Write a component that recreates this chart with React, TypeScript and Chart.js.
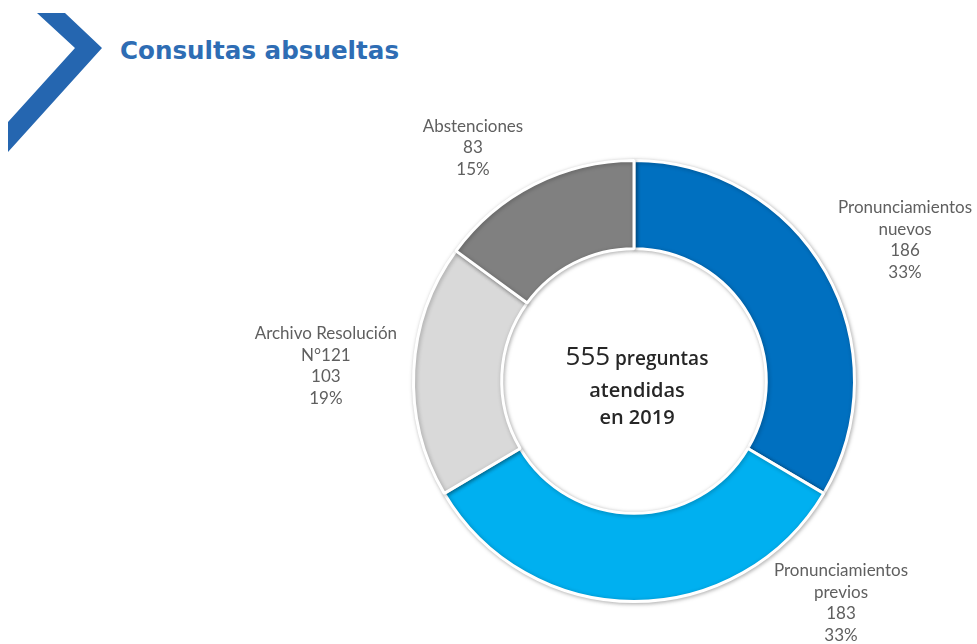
import React, { useEffect, useRef } from "react";
import { Chart, registerables } from "chart.js";

Chart.register(...registerables);

const categories = [
  ["Pronunciamientos", "nuevos"],
  ["Pronunciamientos", "previos"],
  ["Archivo Resolución", "N°121"],
  ["Abstenciones"],
];
const values = [186, 183, 103, 83];
const percentLabels = ["33%", "33%", "19%", "15%"];
const colors = ["#0070C0", "#00B0F0", "#D9D9D9", "#808080"];
const totalText = "555";
const centerLines = ["preguntas", "atendidas", "en 2019"];
const title = "Consultas absueltas";

// label placement: angular nudge (degrees) from slice middle, distance beyond outer edge
const labelLayout = [
  { nudge: 2.2, extra: 85 },
  { nudge: -43, extra: 83 },
  { nudge: 0, extra: 88 },
  { nudge: -7.7, extra: 63 },
];

const LABEL_FONT = '17px Lato, "Noto Sans", sans-serif';

const shadowPlugin = {
  id: "arcShadow",
  beforeDatasetDraw(chart: any) {
    const ctx = chart.ctx;
    ctx.save();
    ctx.shadowColor = "rgba(0,0,0,0.28)";
    ctx.shadowBlur = 4;
    ctx.shadowOffsetX = 1;
    ctx.shadowOffsetY = 1;
  },
  afterDatasetDraw(chart: any) {
    chart.ctx.restore();
  },
};

const labelPlugin = {
  id: "sliceLabels",
  afterDraw(chart: any) {
    const ctx = chart.ctx;
    const meta = chart.getDatasetMeta(0);
    ctx.save();
    ctx.textAlign = "center";
    ctx.textBaseline = "middle";
    meta.data.forEach((arc: any, i: number) => {
      const { x, y, startAngle, endAngle, outerRadius } = arc.getProps(
        ["x", "y", "startAngle", "endAngle", "outerRadius"],
        true
      );
      const lay = labelLayout[i];
      const a = (startAngle + endAngle) / 2 + (lay.nudge * Math.PI) / 180;
      const d = outerRadius + lay.extra;
      const cx = x + d * Math.cos(a);
      const cy = y + d * Math.sin(a);
      const lines = [...categories[i], String(values[i]), percentLabels[i]];
      const lh = 21.5;
      const top = cy - ((lines.length - 1) * lh) / 2;
      ctx.font = LABEL_FONT;
      ctx.fillStyle = "#5f5f5f";
      lines.forEach((t, k) => ctx.fillText(t, cx, top + k * lh));
    });

    // center text
    const arc0 = meta.data[0];
    const ox = arc0.x;
    const oy = arc0.y;
    ctx.textBaseline = "alphabetic";
    ctx.fillStyle = "#262626";
    const bigFont = '26px "Open Sans", sans-serif';
    const smallFont = '600 19px "Open Sans", sans-serif';
    ctx.font = bigFont;
    const w1 = ctx.measureText(totalText + " ").width - 2;
    ctx.font = smallFont;
    const w2 = ctx.measureText(centerLines[0]).width;
    const startX = ox - (w1 + w2) / 2 + 3;
    ctx.textAlign = "left";
    ctx.font = bigFont;
    ctx.fillText(totalText, startX, oy - 16);
    ctx.font = smallFont;
    ctx.fillText(centerLines[0], startX + w1, oy - 16);
    ctx.textAlign = "center";
    ctx.font = '600 20px "Open Sans", sans-serif';
    ctx.fillText(centerLines[1], ox + 3, oy + 16);
    ctx.fillText(centerLines[2], ox + 3, oy + 43);
    ctx.restore();
  },
};

export default function App() {
  const ref = useRef<HTMLCanvasElement>(null);
  useEffect(() => {
    if (!ref.current) return;
    const chart = new Chart(ref.current, {
      type: "doughnut",
      data: {
        labels: categories.map((c) => c.join(" ")),
        datasets: [
          {
            data: values,
            backgroundColor: colors,
            borderColor: "#ffffff",
            borderWidth: 3,
            hoverOffset: 0,
          },
        ],
      },
      options: {
        animation: false,
        responsive: false,
        cutout: "60%",
        layout: { padding: { left: 412, right: 121, top: 159, bottom: 41 } },
        plugins: {
          legend: { display: false },
          tooltip: { enabled: false },
          title: { display: false },
        },
      },
      plugins: [shadowPlugin, labelPlugin],
    });
    return () => chart.destroy();
  }, []);

  return (
    <div
      style={{
        position: "fixed",
        left: 0,
        top: 0,
        width: 977,
        height: 644,
        background: "#ffffff",
        overflow: "hidden",
      }}
    >
      <svg
        width={120}
        height={160}
        style={{ position: "absolute", left: 0, top: 0 }}
      >
        <polygon
          points="37,13 65,13 102,48 8,152 8,122 75,48"
          fill="#2566B0"
        />
      </svg>
      <div
        style={{
          position: "absolute",
          left: 120,
          top: 35,
          fontFamily: '"DejaVu Sans", sans-serif',
          fontWeight: 700,
          fontSize: 24.6,
          color: "#2E6DB4",
          lineHeight: "32px",
          whiteSpace: "nowrap",
        }}
      >
        {title}
      </div>
      <canvas
        ref={ref}
        width={977}
        height={644}
        style={{ position: "absolute", left: 0, top: 0 }}
      />
    </div>
  );
}
